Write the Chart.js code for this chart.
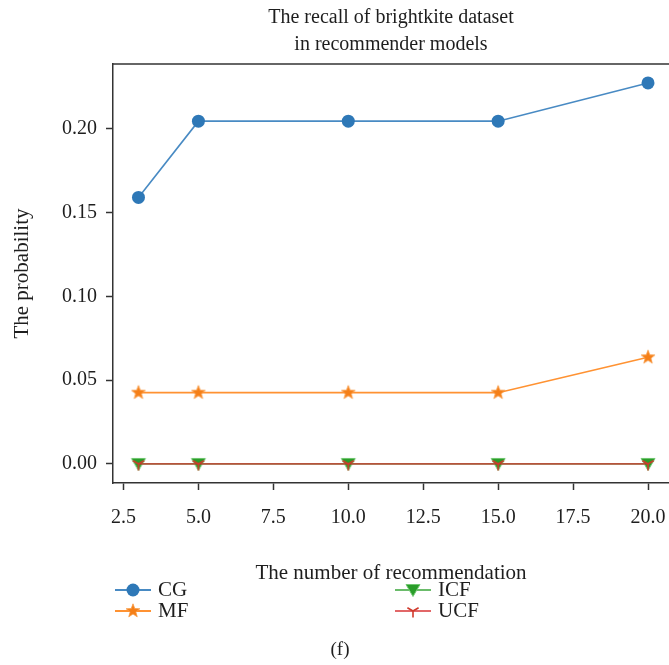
<!DOCTYPE html>
<html>
<head>
<meta charset="utf-8">
<script src="https://cdn.jsdelivr.net/npm/chart.js@4.4.0/dist/chart.umd.min.js"></script>
<style>
  html, body { margin: 0; padding: 0; background: #fff; overflow: hidden; }
</style>
</head>
<body>
<canvas id="recallChart" width="669" height="665"></canvas>
<script>
const recommendCounts = [3, 5, 10, 15, 20];
const cgRecall = [0.159, 0.2045, 0.2045, 0.2045, 0.2273];
const mfRecall = [0.0425, 0.0425, 0.0425, 0.0425, 0.0636];
const icfRecall = [0, 0, 0, 0, 0];
const ucfRecall = [0, 0, 0, 0, 0];
const xTickValues = [2.5, 5, 7.5, 10, 12.5, 15, 17.5, 20];
const yTickValues = [0, 0.05, 0.10, 0.15, 0.20];
const titleLines = ['The recall of brightkite dataset', 'in recommender models'];

const SERIF = '"Liberation Serif", "DejaVu Serif", serif';
const INK = '#1e1e1e';

// small offscreen canvases used as point markers
function makeMarker(size, draw) {
  const c = document.createElement('canvas');
  c.width = size;
  c.height = size;
  const g = c.getContext('2d');
  g.translate(size / 2, size / 2);
  draw(g);
  return c;
}

const starMarker = makeMarker(18, g => {
  g.beginPath();
  for (let i = 0; i < 10; i++) {
    const r = i % 2 === 0 ? 7.2 : 3.0;
    const a = -Math.PI / 2 + i * Math.PI / 5;
    g.lineTo(r * Math.cos(a), r * Math.sin(a));
  }
  g.closePath();
  g.fillStyle = '#f57f17';
  g.fill();
  g.strokeStyle = '#f79a45';
  g.lineWidth = 0.8;
  g.stroke();
});

const triDownMarker = makeMarker(18, g => {
  g.beginPath();
  g.moveTo(-7, -5.5);
  g.lineTo(7, -5.5);
  g.lineTo(0, 6.5);
  g.closePath();
  g.fillStyle = '#2a9d2a';
  g.fill();
  g.strokeStyle = '#73c873';
  g.lineWidth = 1;
  g.stroke();
});

const tripodMarker = makeMarker(18, g => {
  g.strokeStyle = '#d03a2c';
  g.lineWidth = 1.6;
  g.beginPath();
  g.moveTo(0, 0); g.lineTo(0, 6.5);
  g.moveTo(0, 0); g.lineTo(-5.6, -3.2);
  g.moveTo(0, 0); g.lineTo(5.6, -3.2);
  g.stroke();
});

const toPoints = vals => recommendCounts.map((x, i) => ({ x: x, y: vals[i] }));

const datasets = [
  {
    label: 'CG', data: toPoints(cgRecall), order: 4,
    borderColor: 'rgba(40,117,184,0.85)', borderWidth: 1.6,
    pointStyle: 'circle', pointRadius: 6.5,
    pointBackgroundColor: '#2e78b7', pointBorderWidth: 0
  },
  {
    label: 'MF', data: toPoints(mfRecall), order: 3,
    borderColor: 'rgba(255,127,14,0.85)', borderWidth: 1.6,
    pointStyle: starMarker, pointRadius: 7
  },
  {
    label: 'ICF', data: toPoints(icfRecall), order: 2,
    borderColor: 'rgba(44,160,44,0.7)', borderWidth: 1.6,
    pointStyle: triDownMarker, pointRadius: 7
  },
  {
    label: 'UCF', data: toPoints(ucfRecall), order: 1,
    borderColor: 'rgba(214,39,40,0.7)', borderWidth: 1.6,
    pointStyle: tripodMarker, pointRadius: 7
  }
];

// title, top spine, two-column legend and panel caption
const decorations = {
  id: 'decorations',
  afterDraw(chart) {
    const { ctx, chartArea } = chart;
    ctx.save();

    ctx.strokeStyle = '#333';
    ctx.lineWidth = 1.5;
    ctx.beginPath();
    ctx.moveTo(chartArea.left - 0.75, chartArea.top);
    ctx.lineTo(chartArea.right, chartArea.top);
    ctx.stroke();

    ctx.fillStyle = INK;
    ctx.textAlign = 'center';
    ctx.textBaseline = 'middle';
    ctx.font = '20px ' + SERIF;
    const cx = (chartArea.left + chartArea.right) / 2;
    ctx.fillText(titleLines[0], cx, 18);
    ctx.fillText(titleLines[1], cx, 45);

    const slots = [[115, 590], [115, 611], [395, 590], [395, 611]];
    chart.data.datasets.forEach((ds, i) => {
      const [lx, ly] = slots[i];
      ctx.strokeStyle = ds.borderColor;
      ctx.lineWidth = 1.8;
      ctx.beginPath();
      ctx.moveTo(lx, ly);
      ctx.lineTo(lx + 36, ly);
      ctx.stroke();
      const mx = lx + 18;
      if (ds.pointStyle === 'circle') {
        ctx.fillStyle = ds.pointBackgroundColor;
        ctx.beginPath();
        ctx.arc(mx, ly, 6.5, 0, Math.PI * 2);
        ctx.fill();
      } else {
        const img = ds.pointStyle;
        ctx.drawImage(img, mx - img.width / 2, ly - img.height / 2);
      }
      ctx.fillStyle = INK;
      ctx.textAlign = 'left';
      ctx.font = '21px ' + SERIF;
      ctx.fillText(ds.label, lx + 43, ly);
    });

    ctx.textAlign = 'center';
    ctx.font = '19px ' + SERIF;
    ctx.fillText('(f)', 340, 650);
    ctx.restore();
  }
};

const axisGrid = {
  drawOnChartArea: false,
  drawTicks: true,
  tickLength: 7,
  tickWidth: 1.5,
  tickColor: '#333'
};
const axisBorder = { display: true, color: '#333', width: 1.5 };

new Chart(document.getElementById('recallChart').getContext('2d'), {
  type: 'line',
  data: { datasets: datasets },
  plugins: [decorations],
  options: {
    responsive: false,
    devicePixelRatio: 1,
    animation: false,
    layout: {
      autoPadding: false,
      padding: { top: 64, bottom: 77, left: 0, right: 0 }
    },
    plugins: {
      legend: { display: false },
      title: { display: false },
      tooltip: { enabled: false }
    },
    elements: { line: { tension: 0 } },
    scales: {
      x: {
        type: 'linear',
        min: 2.15,
        max: 20.7,
        afterBuildTicks: axis => { axis.ticks = xTickValues.map(v => ({ value: v })); },
        afterFit: axis => { axis.height = 105; },
        grid: axisGrid,
        border: axisBorder,
        ticks: {
          padding: 0,
          color: INK,
          font: { family: SERIF, size: 20, lineHeight: 2.75 },
          callback: v => Number(v).toFixed(1)
        },
        title: {
          display: true,
          text: 'The number of recommendation',
          color: INK,
          font: { family: SERIF, size: 21 },
          padding: { top: 2, bottom: 2.4 }
        }
      },
      y: {
        type: 'linear',
        min: -0.0114,
        max: 0.2386,
        afterBuildTicks: axis => { axis.ticks = yTickValues.map(v => ({ value: v })); },
        afterFit: axis => { axis.width = 113; },
        grid: axisGrid,
        border: axisBorder,
        ticks: {
          padding: 9,
          color: INK,
          font: { family: SERIF, size: 20 },
          callback: v => Number(v).toFixed(2)
        },
        title: {
          display: true,
          text: 'The probability',
          color: INK,
          font: { family: SERIF, size: 21 },
          padding: { top: 9.5, bottom: 2 }
        }
      }
    }
  }
});
</script>
</body>
</html>
